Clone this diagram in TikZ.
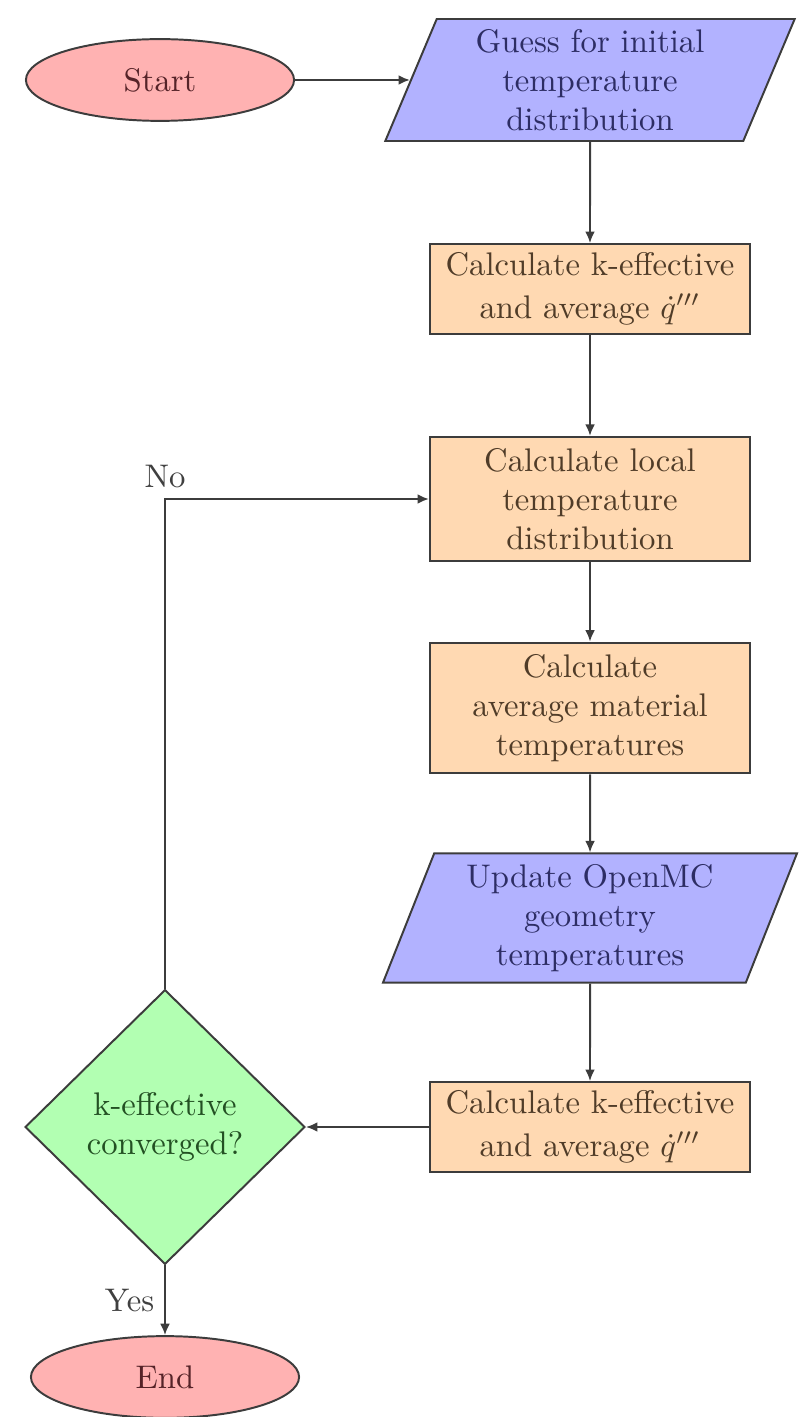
\documentclass[tikz,border=0pt]{standalone}
\usetikzlibrary{shapes.geometric,arrows.meta}
\definecolor{txtred}{RGB}{85,35,40}
\definecolor{txtblue}{RGB}{45,45,100}
\definecolor{txtorange}{RGB}{80,60,40}
\definecolor{txtgreen}{RGB}{35,80,35}
\definecolor{linecol}{RGB}{60,60,60}
\begin{document}
\begin{tikzpicture}[x=0.3058pt,y=-0.3058pt,
  every node/.style={font=\fontsize{10}{12}\selectfont},
  term/.style={ellipse,draw=linecol,semithick,fill=red!30,text=txtred,minimum width=82pt,minimum height=25pt,inner sep=1pt},
  iobox/.style={trapezium,trapezium left angle=70,trapezium right angle=110,trapezium stretches=true,draw=linecol,semithick,fill=blue!30,text=txtblue,align=center,inner sep=1pt},
  procbox/.style={rectangle,draw=linecol,semithick,fill=orange!30,text=txtorange,align=center,minimum width=97.9pt,inner sep=2pt},
  decbox/.style={diamond,draw=linecol,semithick,fill=green!30,text=txtgreen,align=center,minimum width=85.6pt,minimum height=84pt,inner sep=0pt},
  conn/.style={draw=linecol,semithick,-{Latex[length=3.5pt,width=3pt]}},
  lbl/.style={text=black!75}]
\useasboundingbox (0,0) rectangle (807,1417);
\node[term] (start) at (160,80) {Start};
\node[iobox,minimum width=125.4pt,minimum height=37.3pt] (guess) at (590,80) {Guess for initial\\temperature\\distribution};
\node[procbox,minimum height=27.5pt] (keff1) at (590,289) {Calculate k-effective\\[1pt]and average $\dot{q}'''$};
\node[procbox,minimum height=38pt] (local) at (590,499) {Calculate local\\temperature\\distribution};
\node[procbox,minimum height=40pt] (avg) at (590,708) {Calculate\\average material\\temperatures};
\node[iobox,minimum width=126.6pt,minimum height=39.5pt] (update) at (590,918) {Update OpenMC\\geometry\\temperatures};
\node[procbox,minimum height=27.5pt] (keff2) at (590,1127) {Calculate k-effective\\[1pt]and average $\dot{q}'''$};
\node[decbox] (conv) at (165,1127) {k-effective\\converged?};
\node[term] (end) at (165,1377) {End};
\coordinate (corner) at (165,499);
\draw[conn] (start) -- (guess);
\draw[conn] (guess) -- (keff1);
\draw[conn] (keff1) -- (local);
\draw[conn] (local) -- (avg);
\draw[conn] (avg) -- (update);
\draw[conn] (update) -- (keff2);
\draw[conn] (keff2) -- (conv);
\draw[conn] (conv.north) -- (corner) node[lbl,above,pos=1,inner sep=3pt] {No} -- (local.west);
\draw[conn] (conv) -- node[lbl,left,inner sep=3pt] {Yes} (end);
\end{tikzpicture}
\end{document}
